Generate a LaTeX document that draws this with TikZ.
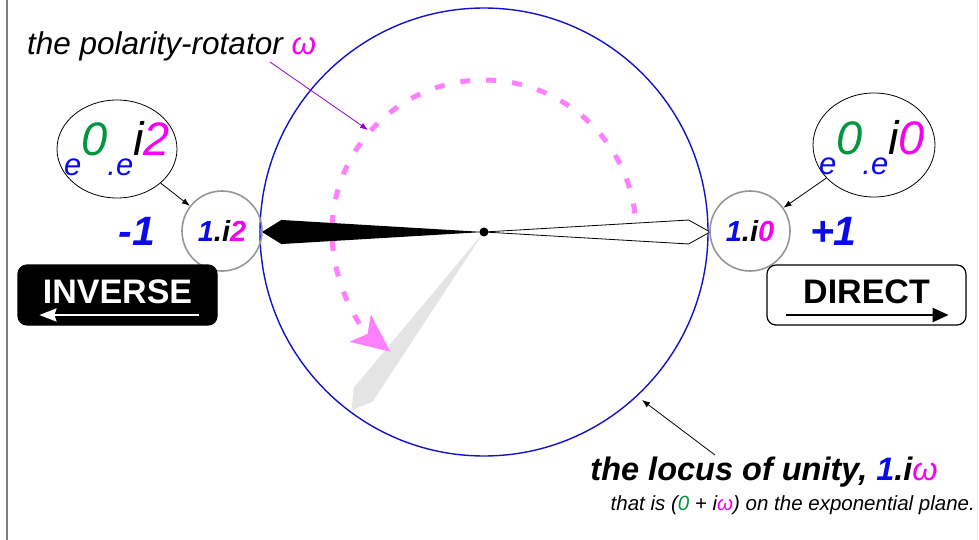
\documentclass[tikz,border=0pt]{standalone}
\usepackage{fontspec}
\setmainfont{Liberation Sans}
\usepackage{xcolor}
\usetikzlibrary{positioning,arrows.meta,shapes.geometric}
\definecolor{locusblue}{RGB}{18,18,205}
\definecolor{textblue}{RGB}{10,10,235}
\definecolor{expgreen}{RGB}{0,150,60}
\definecolor{rotmagenta}{RGB}{245,0,245}
\definecolor{rotpink}{RGB}{255,128,255}
\definecolor{rotpurple}{RGB}{150,0,200}
\definecolor{ringgray}{RGB}{150,150,150}
\definecolor{ghostgray}{RGB}{228,228,228}

\begin{document}
\begin{tikzpicture}[x=1pt, y=-1pt, node distance=20pt, every node/.style={inner sep=0pt}]
      \tikzstyle{unitring}=[draw=ringgray, line width=1.6pt, circle, minimum size=80pt, font=\fontsize{29}{29}\selectfont\bfseries\itshape]
      \tikzstyle{expring}=[draw=black, line width=0.8pt, ellipse]
      \tikzstyle{exptext}=[font=\fontsize{31}{31}\selectfont\itshape]
      \tikzstyle{signlabel}=[font=\fontsize{41}{41}\selectfont\bfseries\itshape, text=textblue]
      \tikzstyle{signbox}=[draw=black, line width=1.2pt, rounded corners=9pt, minimum width=199pt, minimum height=60pt, text height=25pt, text depth=8pt, font=\fontsize{34}{34}\selectfont\bfseries]
      \tikzstyle{pointer}=[line width=0.8pt, -{Latex[length=8pt, width=6pt]}]
      \useasboundingbox (0,0) rectangle (979,540);
      \draw[gray, line width=1.5pt] (7,0) -- (7,540);
      \draw[gray!12, line width=1pt] (977.5,0) -- (977.5,540);
      \node[circle, draw=locusblue, line width=1.4pt, minimum size=448pt] (locus) at (484,232) {};
      \fill[ghostgray] (locus.center) -- +(123.3:203) -- +(126.6:222) -- +(129.9:203) -- cycle;
      \draw[rotpink, line width=5pt, dash pattern=on 10pt off 16pt, -{Stealth[length=38pt, width=34pt, inset=9pt]}] ([shift={(-7:152)}]locus.center) arc[start angle=-7, end angle=-232, radius=152];
      \fill[black] (locus.center) -- +(176.6:203) -- +(180:222) -- +(183.4:203) -- cycle;
      \draw[black, fill=white, line width=0.8pt] (locus.center) -- +(-3.35:205) -- +(0:226) -- +(3.35:205) -- cycle;
      \node[circle, fill=black, minimum size=9pt] (pivot) at (locus.center) {};
      \node[font=\fontsize{31.5}{31.5}\selectfont\itshape, anchor=base west] (rotlabel) at (27,55) {the polarity-rotator \textcolor{rotmagenta}{ω}};
      \coordinate (rotfoot) at (270,62);
      \coordinate (rotpt) at (368,130);
      \draw[pointer, rotpurple] (rotfoot) -- (rotpt);
      \node[unitring] (inv) at (222,231) {\textcolor{textblue}{1}.i\textcolor{rotmagenta}{2}};
      \node[unitring] (dir) at (750,231) {\textcolor{textblue}{1}.i\textcolor{rotmagenta}{0}};
      \node[expring, minimum width=120pt, minimum height=98pt] (invexp) at (117,149) {};
      \node[exptext] (invexptext) at (invexp.center) {\textcolor{textblue}{e}\raisebox{20pt}{\fontsize{47}{47}\selectfont\textcolor{expgreen}{0}}\textcolor{textblue}{.e}\raisebox{20pt}{\fontsize{47}{47}\selectfont i\textcolor{rotmagenta}{2}}};
      \node[expring, minimum width=122pt, minimum height=104pt] (direxp) at (874,145) {};
      \node[exptext] (direxptext) at (872,148) {\textcolor{textblue}{e}\raisebox{20pt}{\fontsize{47}{47}\selectfont\textcolor{expgreen}{0}}\textcolor{textblue}{.e}\raisebox{20pt}{\fontsize{47}{47}\selectfont i\textcolor{rotmagenta}{0}}};
      \draw[pointer] (invexp) -- (inv);
      \draw[pointer] (direxp) -- (dir);
      \node[signlabel, left=26pt of inv] (minus) {-1};
      \node[signlabel, right=19pt of dir] (plus) {+1};
      \node[signbox, fill=black, text=white] (invbox) at (117.5,295) {INVERSE};
      \node[signbox, fill=white, text=black] (dirbox) at (866.5,295) {DIRECT};
      \draw[white, line width=2.5pt, -{Stealth[length=17pt, width=13pt, inset=2pt]}] ([shift={(-19,20)}]invbox.east) -- ([shift={(22,20)}]invbox.west);
      \draw[black, line width=2.5pt, -{Triangle[length=16pt, width=14pt]}] ([shift={(20,20)}]dirbox.west) -- ([shift={(-18,20)}]dirbox.east);
      \node[font=\fontsize{32.5}{32.5}\selectfont\bfseries\itshape, anchor=base east] (locustitle) at (938,480) {the locus of unity, \textcolor{textblue}{1}.i\textcolor{rotmagenta}{\mdseries ω}};
      \node[font=\fontsize{20.5}{20.5}\selectfont\itshape, anchor=base east] (locusnote) at (975,510) {that is (\textcolor{expgreen}{0} + i\textcolor{rotmagenta}{ω}) on the exponential plane.};
      \coordinate (locusfoot) at (715,455);
      \coordinate (locuspt) at (642,400);
      \draw[pointer] (locusfoot) -- (locuspt);
    \end{tikzpicture}
\end{document}
